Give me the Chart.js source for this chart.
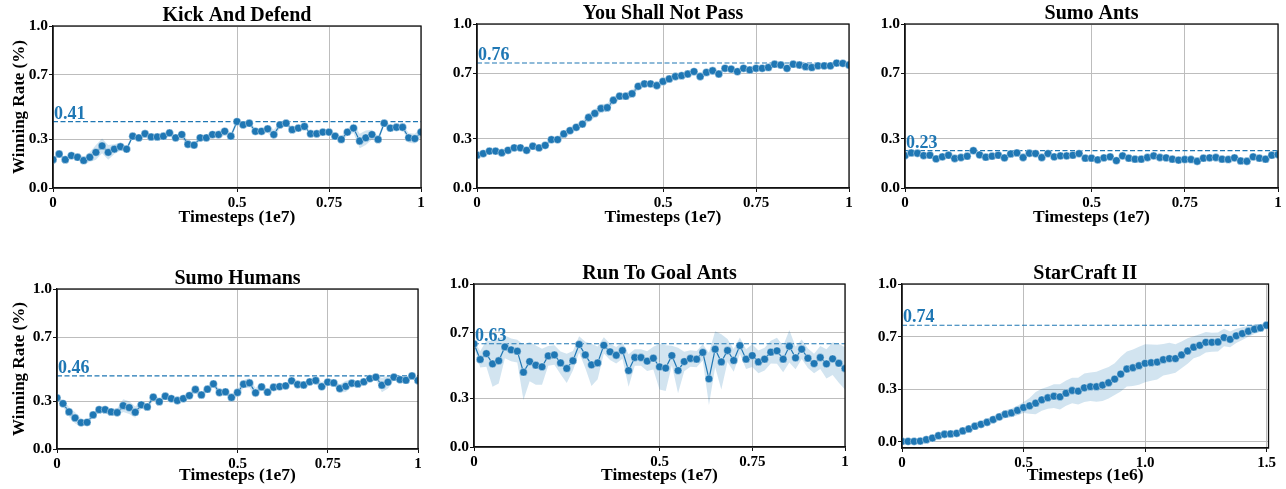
<!DOCTYPE html>
<html>
<head>
<meta charset="utf-8">
<script src="https://cdn.jsdelivr.net/npm/chart.js@4.4.0/dist/chart.umd.min.js"></script>
<style>
  body { margin: 0; background: #fff; width: 1286px; height: 489px; overflow: hidden; position: relative; }
  canvas { position: absolute; }
</style>
</head>
<body>
<script>
// tick values and labels
const xTicksE7 = [0, 0.5, 0.75, 1];
const xTickLabelsE7 = ['0', '0.5', '0.75', '1'];
const xTicksE6 = [0, 0.5, 1.0, 1.5];
const xTickLabelsE6 = ['0', '0.5', '1.0', '1.5'];
const yTicks = [0, 0.3, 0.7, 1];
const yTicksSC2 = [0, 0.3333, 0.6667, 1];
const yTickLabels = ['0.0', '0.3', '0.7', '1.0'];

// timesteps: 61 evaluations per run
const stepsE7 = Array.from({ length: 61 }, (_, i) => i / 60);
const stepsE6 = Array.from({ length: 61 }, (_, i) => i * 0.025);

// winning rate (mean) and spread
const kickDefend = [0.175,0.21,0.175,0.20,0.19,0.17,0.19,0.22,0.26,0.22,
  0.24,0.255,0.24,0.32,0.31,0.335,0.315,0.315,0.32,0.34,
  0.31,0.33,0.27,0.265,0.31,0.31,0.33,0.33,0.35,0.32,
  0.41,0.39,0.40,0.35,0.35,0.365,0.33,0.39,0.40,0.36,
  0.37,0.38,0.335,0.335,0.345,0.345,0.32,0.30,0.345,0.37,
  0.29,0.31,0.33,0.30,0.40,0.37,0.375,0.375,0.31,0.305,0.345];
const kickDefendStd = [0.01,0.01,0.01,0.01,0.01,0.02,0.03,0.045,0.045,0.045,
  0.03,0.025,0.02,0.01,0.01,0.01,0.01,0.01,0.01,0.01,
  0.015,0.02,0.02,0.015,0.015,0.015,0.02,0.025,0.025,0.02,
  0.015,0.02,0.015,0.015,0.015,0.025,0.03,0.02,0.015,0.015,
  0.015,0.01,0.01,0.01,0.01,0.01,0.015,0.02,0.02,0.03,
  0.045,0.045,0.03,0.02,0.015,0.015,0.015,0.015,0.03,0.03,0.03];

const youShallNotPass = [0.20,0.21,0.225,0.225,0.215,0.23,0.245,0.245,0.23,0.255,
  0.245,0.26,0.295,0.295,0.33,0.35,0.37,0.39,0.43,0.455,
  0.485,0.49,0.535,0.56,0.56,0.575,0.62,0.635,0.635,0.625,
  0.65,0.665,0.68,0.685,0.695,0.71,0.68,0.705,0.715,0.695,
  0.73,0.725,0.71,0.73,0.72,0.73,0.73,0.735,0.755,0.75,
  0.73,0.755,0.75,0.74,0.735,0.745,0.745,0.745,0.762,0.76,0.75];
const youShallNotPassStd = [0.01,0.01,0.01,0.01,0.01,0.01,0.01,0.01,0.01,0.01,
  0.01,0.01,0.015,0.015,0.02,0.02,0.02,0.02,0.025,0.025,
  0.025,0.025,0.02,0.02,0.02,0.02,0.02,0.02,0.015,0.015,
  0.01,0.01,0.01,0.01,0.01,0.01,0.01,0.01,0.01,0.01,
  0.01,0.01,0.01,0.01,0.01,0.01,0.015,0.01,0.01,0.01,
  0.01,0.01,0.01,0.01,0.01,0.01,0.01,0.01,0.01,0.01,0.01];

const sumoAnts = [0.198,0.214,0.212,0.198,0.20,0.178,0.19,0.20,0.18,0.186,
  0.194,0.228,0.202,0.188,0.194,0.20,0.184,0.208,0.214,0.186,
  0.212,0.21,0.186,0.21,0.19,0.196,0.196,0.20,0.21,0.182,
  0.182,0.172,0.184,0.19,0.167,0.196,0.182,0.176,0.176,0.186,
  0.196,0.186,0.184,0.176,0.17,0.174,0.174,0.163,0.182,0.184,
  0.186,0.176,0.174,0.184,0.165,0.163,0.19,0.182,0.176,0.20,0.204];
const sumoAntsStd = [0.012,0.008,0.008,0.008,0.008,0.008,0.008,0.008,0.008,0.008,
  0.008,0.01,0.008,0.008,0.008,0.008,0.008,0.008,0.012,0.008,
  0.01,0.012,0.008,0.008,0.008,0.008,0.008,0.008,0.008,0.008,
  0.008,0.008,0.008,0.008,0.01,0.008,0.008,0.008,0.008,0.008,
  0.008,0.008,0.008,0.008,0.008,0.008,0.008,0.008,0.008,0.008,
  0.008,0.008,0.008,0.008,0.008,0.008,0.008,0.008,0.008,0.01,0.012];

const sumoHumans = [0.32,0.284,0.232,0.194,0.165,0.167,0.213,0.246,0.246,0.232,
  0.228,0.271,0.259,0.23,0.276,0.263,0.324,0.296,0.33,0.315,
  0.303,0.315,0.334,0.372,0.338,0.374,0.407,0.353,0.357,0.322,
  0.353,0.405,0.413,0.351,0.388,0.355,0.386,0.39,0.395,0.426,
  0.403,0.40,0.42,0.428,0.39,0.418,0.413,0.378,0.392,0.411,
  0.407,0.42,0.44,0.449,0.399,0.418,0.449,0.434,0.43,0.457,0.428];
const sumoHumansStd = [0.01,0.02,0.03,0.035,0.025,0.015,0.015,0.015,0.02,0.02,
  0.025,0.04,0.04,0.035,0.025,0.02,0.02,0.02,0.015,0.015,
  0.015,0.02,0.02,0.02,0.015,0.02,0.02,0.02,0.015,0.015,
  0.02,0.025,0.03,0.03,0.02,0.015,0.015,0.015,0.015,0.015,
  0.015,0.015,0.015,0.02,0.025,0.025,0.02,0.025,0.035,0.02,
  0.015,0.015,0.015,0.02,0.045,0.04,0.02,0.015,0.015,0.015,0.015];

const runToGoalAnts = [0.633,0.537,0.573,0.51,0.529,0.614,0.596,0.588,0.459,0.524,
  0.502,0.492,0.559,0.565,0.516,0.482,0.529,0.629,0.565,0.504,
  0.516,0.624,0.584,0.563,0.592,0.469,0.549,0.549,0.527,0.545,
  0.492,0.484,0.561,0.469,0.524,0.543,0.539,0.58,0.418,0.60,
  0.522,0.592,0.531,0.622,0.539,0.561,0.522,0.539,0.582,0.59,
  0.539,0.618,0.547,0.60,0.545,0.512,0.549,0.51,0.541,0.514,0.482];
const runToGoalAntsStd = [0.02,0.05,0.08,0.14,0.14,0.07,0.07,0.07,0.17,0.12,
  0.12,0.11,0.06,0.06,0.07,0.09,0.06,0.05,0.08,0.13,
  0.1,0.05,0.05,0.05,0.05,0.1,0.05,0.05,0.06,0.07,
  0.14,0.14,0.06,0.14,0.06,0.05,0.05,0.05,0.16,0.11,
  0.17,0.07,0.07,0.05,0.06,0.07,0.07,0.07,0.07,0.08,
  0.08,0.10,0.07,0.06,0.06,0.06,0.07,0.09,0.1,0.12,0.13];

const starCraft = [0.004,0.004,0.004,0.006,0.015,0.025,0.04,0.049,0.051,0.055,
  0.07,0.083,0.10,0.112,0.125,0.142,0.159,0.176,0.184,0.20,
  0.218,0.229,0.246,0.267,0.28,0.29,0.286,0.309,0.326,0.322,
  0.343,0.35,0.35,0.36,0.375,0.398,0.43,0.462,0.47,0.483,
  0.498,0.502,0.506,0.521,0.528,0.528,0.551,0.576,0.60,0.612,
  0.631,0.631,0.633,0.661,0.65,0.672,0.686,0.701,0.714,0.722,0.739];
const starCraftStd = [0.005,0.005,0.005,0.006,0.008,0.01,0.01,0.012,0.012,0.012,
  0.015,0.015,0.018,0.02,0.02,0.022,0.025,0.025,0.028,0.03,
  0.035,0.05,0.07,0.07,0.07,0.075,0.08,0.08,0.08,0.085,
  0.09,0.09,0.095,0.1,0.1,0.1,0.11,0.11,0.115,0.12,
  0.12,0.115,0.11,0.1,0.1,0.09,0.085,0.08,0.07,0.07,
  0.065,0.06,0.06,0.055,0.05,0.045,0.04,0.035,0.03,0.025,0.015];

// panel setup: plot area in page pixels
const panels = [
  { title: 'Kick And Defend', mean: kickDefend, std: kickDefendStd, steps: stepsE7, xTicks: xTicksE7, xLabels: xTickLabelsE7, xMax: 1, yMin: 0, yTk: yTicks, xTitle: 'Timesteps (1e7)', yTitle: true,
    box: { left: 53, top: 26, right: 421, bottom: 188 }, row: 0 },
  { title: 'You Shall Not Pass', mean: youShallNotPass, std: youShallNotPassStd, steps: stepsE7, xTicks: xTicksE7, xLabels: xTickLabelsE7, xMax: 1, yMin: 0, yTk: yTicks, xTitle: 'Timesteps (1e7)', yTitle: false,
    box: { left: 477, top: 24, right: 849, bottom: 188 }, row: 0 },
  { title: 'Sumo Ants', mean: sumoAnts, std: sumoAntsStd, steps: stepsE7, xTicks: xTicksE7, xLabels: xTickLabelsE7, xMax: 1, yMin: 0, yTk: yTicks, xTitle: 'Timesteps (1e7)', yTitle: false,
    box: { left: 905, top: 24, right: 1278, bottom: 188 }, row: 0 },
  { title: 'Sumo Humans', mean: sumoHumans, std: sumoHumansStd, steps: stepsE7, xTicks: xTicksE7, xLabels: xTickLabelsE7, xMax: 1, yMin: 0, yTk: yTicks, xTitle: 'Timesteps (1e7)', yTitle: true,
    box: { left: 57, top: 289, right: 418, bottom: 449 }, row: 1 },
  { title: 'Run To Goal Ants', mean: runToGoalAnts, std: runToGoalAntsStd, steps: stepsE7, xTicks: xTicksE7, xLabels: xTickLabelsE7, xMax: 1, yMin: 0, yTk: yTicks, xTitle: 'Timesteps (1e7)', yTitle: false,
    box: { left: 474, top: 284, right: 845, bottom: 447 }, row: 1 },
  { title: 'StarCraft II', mean: starCraft, std: starCraftStd, steps: stepsE6, xTicks: xTicksE6, xLabels: xTickLabelsE6, xMax: 1.508, yMin: -0.038, yTk: yTicksSC2, xTitle: 'Timesteps (1e6)', yTitle: false,
    box: { left: 902, top: 284, right: 1270, bottom: 448 }, row: 1 }
];

const BLUE = '#1f77b4';
const FONT = '"Liberation Serif", "Times New Roman", serif';

// title, frame and best-value label
const decor = {
  id: 'decor',
  afterDraw(chart, args, opts) {
    const { ctx, chartArea: a } = chart;
    ctx.save();
    ctx.strokeStyle = '#111';
    ctx.lineWidth = 1.3;
    ctx.strokeRect(a.left, a.top, a.right - a.left, a.bottom - a.top);
    ctx.fillStyle = '#000';
    ctx.font = 'bold 20px ' + FONT;
    ctx.textAlign = 'center';
    ctx.textBaseline = 'alphabetic';
    ctx.fillText(opts.title, (a.left + a.right) / 2, a.top - 5);
    const y = chart.scales.y.getPixelForValue(opts.best);
    ctx.fillStyle = BLUE;
    ctx.font = 'bold 18px ' + FONT;
    ctx.textAlign = 'left';
    ctx.fillText(opts.best.toFixed(2), a.left + 1, y - 3);
    ctx.restore();
  }
};

panels.forEach(p => {
  const b = p.box;
  const x0 = p.yTitle ? 0 : b.left - 44;
  const y0 = p.row === 0 ? 0 : b.top - 34;
  const w = Math.min(1286, b.right + 8) - x0;
  const h = (p.row === 0 ? 228 : 486) - y0;
  const topPad = b.top - y0;
  const yW = b.left - x0;
  const xH = h - (b.bottom - y0);
  const best = Math.max(...p.mean);

  const cv = document.createElement('canvas');
  cv.width = w; cv.height = h;
  cv.style.left = x0 + 'px'; cv.style.top = y0 + 'px';
  cv.style.width = w + 'px'; cv.style.height = h + 'px';
  document.body.appendChild(cv);

  const meanPts = p.steps.map((s, i) => ({ x: s, y: p.mean[i] }));
  const upPts = p.steps.map((s, i) => ({ x: s, y: p.mean[i] + p.std[i] }));
  const loPts = p.steps.map((s, i) => ({ x: s, y: p.mean[i] - p.std[i] }));

  new Chart(cv.getContext('2d'), {
    type: 'line',
    data: {
      datasets: [
        { data: meanPts, borderColor: BLUE, borderWidth: 1.2, pointRadius: 3.9, pointBackgroundColor: BLUE,
          pointBorderColor: '#fff', pointBorderWidth: 0.4, fill: false, tension: 0 },
        { data: [{ x: 0, y: best }, { x: p.xMax, y: best }], borderColor: BLUE, borderWidth: 1.1,
          borderDash: [5, 2.5], pointRadius: 0, fill: false },
        { data: upPts, borderWidth: 0, pointRadius: 0, backgroundColor: 'rgba(31,119,180,0.2)', fill: '+1' },
        { data: loPts, borderWidth: 0, pointRadius: 0, fill: false }
      ]
    },
    options: {
      responsive: false,
      animation: false,
      devicePixelRatio: 1,
      layout: { padding: { top: topPad, right: 8, left: 0, bottom: 0 } },
      plugins: {
        legend: { display: false },
        tooltip: { enabled: false },
        decor: { title: p.title, best: best }
      },
      scales: {
        x: {
          type: 'linear', min: 0, max: p.xMax,
          afterBuildTicks: s => { s.ticks = p.xTicks.map(v => ({ value: v })); },
          afterFit: s => { s.height = xH; },
          ticks: { color: '#000', font: { family: FONT, size: 15, weight: 'bold' }, padding: 2,
            maxRotation: 0, autoSkip: false, callback: (v, i) => p.xLabels[i] },
          grid: { color: '#bdbdbd', lineWidth: 1, tickLength: 4, tickColor: '#111' },
          border: { color: '#111', width: 1.3 },
          title: { display: true, text: p.xTitle, color: '#000', font: { family: FONT, size: 17.5, weight: 'bold' },
            padding: { top: 0, bottom: 0 } }
        },
        y: {
          type: 'linear', min: p.yMin, max: 1,
          afterBuildTicks: s => { s.ticks = p.yTk.map(v => ({ value: v })); },
          afterFit: s => { s.width = yW; },
          ticks: { color: '#000', font: { family: FONT, size: 15.5, weight: 'bold' }, padding: 1,
            autoSkip: false, callback: (v, i) => yTickLabels[i] },
          grid: { color: '#bdbdbd', lineWidth: 1, tickLength: 4, tickColor: '#111' },
          border: { color: '#111', width: 1.3 },
          title: { display: p.yTitle, text: 'Winning Rate (%)', color: '#000',
            font: { family: FONT, size: 17, weight: 'bold' }, padding: { top: 9, bottom: 0 } }
        }
      }
    },
    plugins: [decor]
  });
});
</script>
</body>
</html>
